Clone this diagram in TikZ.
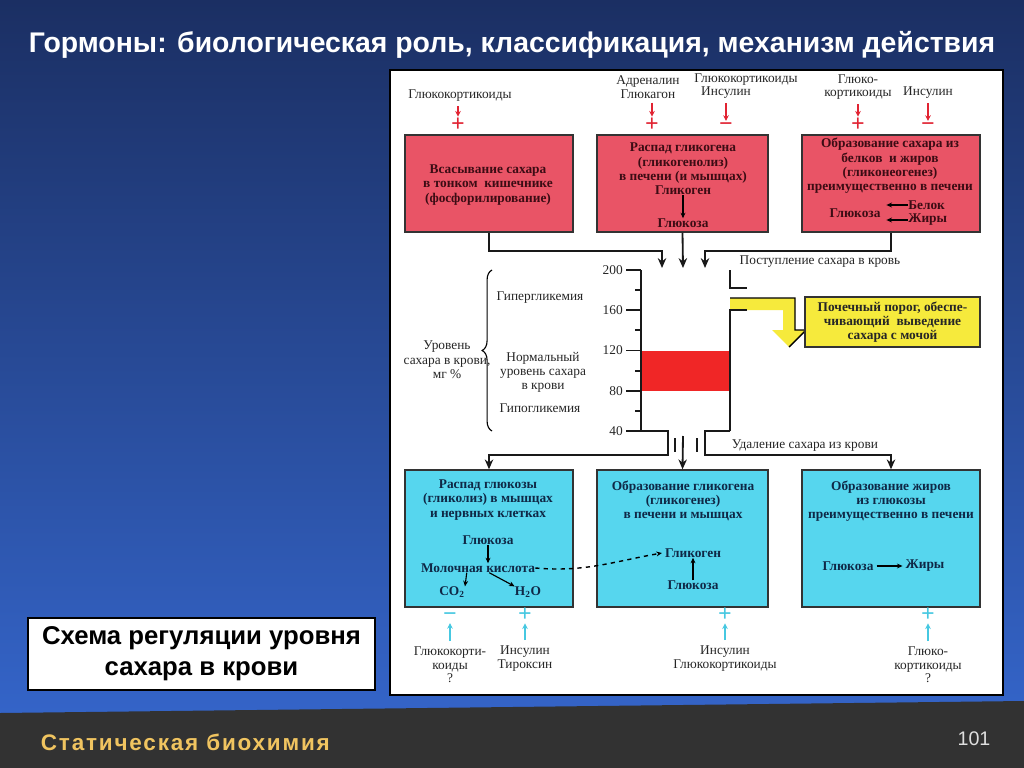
\documentclass[tikz,border=0pt]{standalone}
\usepackage{fontspec}
\setmainfont{Liberation Serif}
\newfontfamily\headfont{Liberation Sans}
\newfontfamily\footfont[LetterSpace=8]{Liberation Sans}
\usetikzlibrary{arrows.meta,decorations.pathreplacing,fit}
\definecolor{bgtop}{RGB}{27,47,99}
\definecolor{bgbot}{RGB}{52,100,200}
\definecolor{barcol}{RGB}{50,50,50}
\definecolor{gold}{RGB}{240,196,96}
\definecolor{boxred}{RGB}{233,84,102}
\definecolor{bandred}{RGB}{240,38,38}
\definecolor{boxblue}{RGB}{86,214,238}
\definecolor{yel}{RGB}{246,234,60}
\definecolor{sred}{RGB}{225,35,50}
\definecolor{sblue}{RGB}{70,200,225}
\definecolor{rtxt}{RGB}{60,12,20}
\definecolor{btxt}{RGB}{15,40,70}
\tikzset{
  rbox/.style={draw=black!80,fill=boxred,line width=1pt,inner sep=0pt},  % source of sugar
  bbox/.style={draw=black!80,fill=boxblue,line width=1pt,inner sep=0pt}, % use of sugar
  rt/.style={font=\bfseries\fontsize{9.5}{10.2}\selectfont,align=center,inner sep=0pt,text=rtxt},
  bt/.style={font=\bfseries\fontsize{9.5}{10.2}\selectfont,align=center,inner sep=0pt,text=btxt},
  lbl/.style={font=\fontsize{9.5}{9.6}\selectfont,align=center,inner sep=0pt,text=black!85},
  sgn/.style={font=\bfseries\fontsize{17}{17}\selectfont,inner sep=0pt},
  flow/.style={-{Stealth[length=7pt,width=6pt]},line width=1.3pt,black!90},
  wall/.style={line width=1.3pt,black!90},
  sm/.style={-{Stealth[length=4pt,width=3.5pt]},line width=0.8pt},
  hr/.style={-{Stealth[length=4pt,width=4pt]},line width=1pt,sred},
  hb/.style={-{Stealth[length=4pt,width=4pt]},line width=1pt,sblue},
}
\begin{document}
\begin{tikzpicture}[x=0.025cm,y=-0.025cm]
  \useasboundingbox (0,0) rectangle (1024,768);
  % slide
  \shade[top color=bgtop,bottom color=bgbot] (0,0) rectangle (1024,714);
  \fill[barcol] (0,713) -- (1024,701) -- (1024,768) -- (0,768) -- cycle;
  \node[font=\headfont\bfseries\fontsize{20.2}{22}\selectfont,text=white] (title) at (512,45) {Гормоны: биологическая роль, классификация, механизм действия};
  \node[font=\footfont\bfseries\fontsize{16}{18}\selectfont,text=gold,anchor=west] (foot) at (36,742) {Статическая биохимия};
  \node[font=\headfont\fontsize{14}{16}\selectfont,text=gray!25] (pnum) at (974,739) {101};
  \node[draw=black,line width=1.6pt,fill=white,inner sep=0pt,fit={(28,618) (375,690)}] (cap) {};
  \node[font=\headfont\bfseries\fontsize{18.3}{22}\selectfont,align=center] (captxt) at (cap.center) {Схема регуляции уровня\\сахара в крови};
  \node[draw=black,line width=1.4pt,fill=white,inner sep=0pt,fit={(390,70) (1003,695)}] (panel) {};

  % sources
  \node[rbox,fit={(405,135) (573,232)}] (gl1) {};
  \node[rbox,fit={(597,135) (768,232)}] (gl2) {};
  \node[rbox,fit={(802,135) (980,232)}] (gl3) {};
  \node[rt] (t1) at (488,185) {Всасывание сахара\\в тонком\ \ кишечнике\\(фосфорилирование)};
  \node[rt] (t2) at (683,169) {Распад гликогена\\(гликогенолиз)\\в печени (и мышцах)\\Гликоген};
  \node[rt] (t2g) at (683,223) {Глюкоза};
  \draw[sm] (t2.south) -- (t2g.north);
  \node[rt] (t3) at (890,166) {Образование сахара из\\белков\ \ и жиров\\(гликонеогенез)\\преимущественно в печени};
  \node[rt] (t3g) at (855,213) {Глюкоза};
  \node[rt,anchor=west] (t3b) at (908,205) {Белок};
  \node[rt,anchor=west] (t3f) at (908,220) {Жиры};
  \draw[sm] (t3b.west) -- ([xshift=4pt]t3g.east |- t3b.west);
  \draw[sm] (t3f.west) -- ([xshift=4pt]t3g.east |- t3f.west);

  % hormones on top
  \node[lbl] (h1) at (460,96) {Глюкокортикоиды};
  \node[lbl] (h2) at (648,87) {Адреналин\\Глюкагон};
  \node[lbl] (h3a) at (746,80) {Глюкокортикоиды};
  \node[lbl] (h3) at (726,93) {Инсулин};
  \node[lbl] (h4) at (858,87) {Глюко-\\кортикоиды};
  \node[lbl] (h5) at (928,93) {Инсулин};
  \node[sgn,text=sred] (s1) at (458,125) {+};
  \node[sgn,text=sred] (s2) at (652,125) {+};
  \node[sgn,text=sred] (s3) at (726,127) {−};
  \node[sgn,text=sred] (s4) at (858,125) {+};
  \node[sgn,text=sred] (s5) at (928,127) {−};
  \foreach \h/\s in {h1/s1,h2/s2,h3/s3,h4/s4,h5/s5}
    \draw[hr,shorten <=3pt,shorten >=1pt] (\h.south -| \s) -- (\s.north);

  % kidney outlet
  \fill[yel] (730,298) -- (795,298) -- (795,330) -- (806,330) -- (789,347) -- (772,330) -- (783,330) -- (783,310) -- (730,310) -- cycle;
  \draw[line width=1pt] (730,298) -- (795,298) -- (795,330) -- (806,330) -- (789,347);
  \node[draw=black!80,fill=yel,line width=1pt,inner sep=0pt,fit={(805,297) (980,347)}] (kid) {};
  \node[rt,text=black!85] (kidtxt) at (kid.center) {Почечный порог, обеспе-\\чивающий\ \ выведение\\сахара с мочой};

  % blood vessel with scale
  \fill[bandred] (641,351) rectangle (730,391);
  \draw[wall] (641,270) -- (641,431);
  \draw[wall] (730,270) -- (730,288) -- (747,288);
  \draw[wall] (747,310) -- (730,310) -- (730,431);
  \foreach \v in {40,60,...,200}
    \draw[wall] (635,{431-(\v-40)*1.00625}) -- (641,{431-(\v-40)*1.00625});
  \foreach \v in {40,80,...,200} {
    \draw[wall] (626,{431-(\v-40)*1.00625}) -- (641,{431-(\v-40)*1.00625});
    \node[lbl,anchor=east] at (623,{431-(\v-40)*1.00625}) {\v};
  }
  \draw[decorate,decoration={brace,amplitude=7pt},line width=0.8pt] (492,431) -- (492,270);
  \node[lbl,font=\fontsize{9.5}{10.3}\selectfont] (lev) at (447,360) {Уровень\\сахара в крови,\\мг \%};
  \node[lbl] (hyper) at (540,298) {Гипергликемия};
  \node[lbl,font=\fontsize{9.5}{10}\selectfont] (norm) at (543,372) {Нормальный\\уровень сахара\\в крови};
  \node[lbl] (hypo) at (540,408) {Гипогликемия};
  \node[lbl] (inlbl) at (820,262) {Поступление сахара в кровь};
  \node[lbl] (outlbl) at (805,446) {Удаление сахара из крови};

  % uses
  \node[bbox,fit={(405,470) (573,607)}] (gb1) {};
  \node[bbox,fit={(597,470) (768,607)}] (gb2) {};
  \node[bbox,fit={(802,470) (980,607)}] (gb3) {};
  \node[bt] (u1) at (488,500) {Распад глюкозы\\(гликолиз) в мышцах\\и нервных клетках};
  \node[bt] (u1g) at (488,540) {Глюкоза};
  \node[bt] (u1m) at (478,568) {Молочная кислота};
  \node[bt] (u1c) at (452,592) {CO\textsubscript{2}};
  \node[bt] (u1w) at (528,592) {H\textsubscript{2}O};
  \draw[sm] (u1g.south) -- (u1g.south |- u1m.north);
  \draw[sm] ([xshift=-8pt]u1m.south) -- (u1c.north east);
  \draw[sm] ([xshift=8pt]u1m.south) -- (u1w.north west);
  \node[bt] (u2) at (683,501) {Образование гликогена\\(гликогенез)\\в печени и мышцах};
  \node[bt] (u2k) at (693,553) {Гликоген};
  \node[bt] (u2g) at (693,585) {Глюкоза};
  \draw[sm] (u2g.north) -- (u2k.south);
  \draw[sm,dashed,line width=1pt] (u1m.east) to[out=-5,in=190] ([xshift=-2pt]u2k.west);
  \node[bt] (u3) at (891,501) {Образование жиров\\из глюкозы\\преимущественно в печени};
  \node[bt] (u3g) at (848,566) {Глюкоза};
  \node[bt] (u3f) at (925,566) {Жиры};
  \draw[sm] ([xshift=2pt]u3g.east) -- ([xshift=-2pt]u3f.west);

  % connectors in and out
  \coordinate (in1) at (662,268);
  \coordinate (in2) at (683,268);
  \coordinate (in3) at (705,268);
  \draw[flow] (gl1.south) -- ++(0,18) -| (in1);
  \draw[flow] (gl2.south) -- (in2);
  \draw[flow] (gl3.south) -- ++(0,18) -| (in3);
  \coordinate (vbl) at (641,431);
  \coordinate (vbr) at (730,431);
  \coordinate (out2) at (683,436);
  \draw[flow] (vbl) -- (668,431) -- (668,455) -| (gb1.north);
  \draw[flow] (vbr) -- (705,431) -- (705,455) -| (gb3.north);
  \draw[flow] (out2) -- (gb2.north);
  \draw[wall] (675,438) -- (675,452);
  \draw[wall] (697,438) -- (697,452);

  % hormones at the bottom
  \node[lbl] (k1) at (450,665) {Глюкокорти-\\коиды\\?};
  \node[lbl] (k2) at (525,658.5) {Инсулин\\Тироксин};
  \node[lbl] (k3) at (725,658.5) {Инсулин\\Глюкокортикоиды};
  \node[lbl] (k4) at (928,665) {Глюко-\\кортикоиды\\?};
  \node[sgn,text=sblue] (q1) at (450,617) {−};
  \node[sgn,text=sblue] (q2) at (525,615) {+};
  \node[sgn,text=sblue] (q3) at (725,615) {+};
  \node[sgn,text=sblue] (q4) at (928,615) {+};
  \foreach \k/\q in {k1/q1,k2/q2,k3/q3,k4/q4}
    \draw[hb,shorten <=4pt,shorten >=1pt] (\k.north -| \q) -- (\q.south);
\end{tikzpicture}
\end{document}
